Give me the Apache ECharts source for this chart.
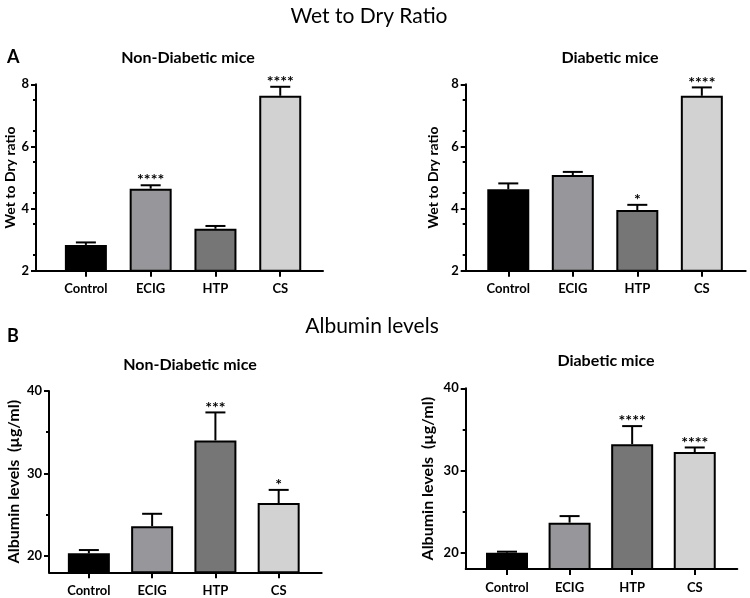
<!DOCTYPE html>
<html>
<head>
<meta charset="utf-8">
<script src="https://cdn.jsdelivr.net/npm/echarts@6/dist/echarts.min.js"></script>
<style>html,body{margin:0;padding:0;background:#fff}#c{width:750px;height:598px}</style>
</head>
<body>
<div id="c"></div>
<script>
const categories = ['Control', 'ECIG', 'HTP', 'CS'];
const barColors = ['#000000', '#97979b', '#767676', '#d2d2d2'];

const wetNonDiab = [2.83, 4.64, 3.35, 7.63];
const wetNonDiabErr = [0.08, 0.11, 0.09, 0.29];
const wetNonDiabStars = ['', '****', '', '****'];

const wetDiab = [4.62, 5.08, 3.95, 7.63];
const wetDiabErr = [0.19, 0.10, 0.17, 0.27];
const wetDiabStars = ['', '', '*', '****'];

const albNonDiab = [20.3, 23.6, 34.0, 26.4];
const albNonDiabErr = [0.4, 1.5, 3.4, 1.6];
const albNonDiabStars = ['', '', '***', '*'];

const albDiab = [20.0, 23.65, 33.2, 32.25];
const albDiabErr = [0.12, 0.8, 2.2, 0.55];
const albDiabStars = ['', '', '****', '****'];

const wetTicks = [2, 4, 6, 8];
const albTicks = [20, 30, 40];
const albMinorTicks = [25, 35];
const catTicks = [0, 1, 2, 3];

const FONT = 'Lato, "Liberation Sans", sans-serif';

const panels = [
  { grid: { left: 36, top: 84.3, width: 287, height: 186.4 }, xMin: -0.77, xMax: 3.66,
    yMin: 2, yMax: 8, ticks: wetTicks, minor: null, name: 'Wet to Dry ratio', nameGap: 16, nameSize: 14,
    vals: wetNonDiab, errs: wetNonDiabErr, stars: wetNonDiabStars },
  { grid: { left: 465.7, top: 84.3, width: 280, height: 186.4 }, xMin: -0.66, xMax: 3.68,
    yMin: 2, yMax: 8, ticks: wetTicks, minor: null, name: 'Wet to Dry ratio', nameGap: 25, nameSize: 14,
    vals: wetDiab, errs: wetDiabErr, stars: wetDiabStars },
  { grid: { left: 49, top: 391, width: 272.7, height: 181.3 }, xMin: -0.63, xMax: 3.68,
    yMin: 18, yMax: 40, ticks: albTicks, minor: albMinorTicks, name: 'Albumin levels  (µg/ml)', nameGap: 27, nameSize: 16,
    vals: albNonDiab, errs: albNonDiabErr, stars: albNonDiabStars },
  { grid: { left: 465.7, top: 388.3, width: 271.6, height: 180.8 }, xMin: -0.66, xMax: 3.68,
    yMin: 18, yMax: 40, ticks: albTicks, minor: albMinorTicks, name: 'Albumin levels  (µg/ml)', nameGap: 30, nameSize: 16,
    vals: albDiab, errs: albDiabErr, stars: albDiabStars }
];

const grids = [], xAxes = [], yAxes = [], series = [];
panels.forEach((p, gi) => {
  grids.push(Object.assign({ containLabel: false }, p.grid));
  xAxes.push({
    type: 'value', gridIndex: gi, min: p.xMin, max: p.xMax,
    splitLine: { show: false },
    axisLine: { show: true, onZero: false, lineStyle: { color: '#000', width: 2 } },
    axisTick: { show: true, customValues: catTicks, length: 6, lineStyle: { color: '#000', width: 2 } },
    axisLabel: { show: true, customValues: catTicks, margin: 12, color: '#000', fontWeight: 'bold', fontSize: 13, fontFamily: FONT,
      formatter: v => categories[Math.round(v)] }
  });
  const yIdx = yAxes.length;
  yAxes.push({
    type: 'value', gridIndex: gi, min: p.yMin, max: p.yMax,
    splitLine: { show: false },
    name: p.name, nameLocation: 'middle', nameRotate: 90, nameGap: p.nameGap,
    nameTextStyle: { color: '#000', fontWeight: 'bold', fontSize: p.nameSize, fontFamily: FONT },
    axisLine: { show: true, onZero: false, lineStyle: { color: '#000', width: 2 } },
    axisTick: { show: true, customValues: p.ticks, length: 5, lineStyle: { color: '#000', width: 2 } },
    axisLabel: { show: true, customValues: p.ticks, margin: 7, color: '#000', fontWeight: 'bold', fontSize: 13, fontFamily: FONT },
    minorTick: p.minor ? { show: false } : { show: true, splitNumber: 2, length: 3, lineStyle: { color: '#000', width: 2 } }
  });
  if (p.minor) {
    yAxes.push({
      type: 'value', gridIndex: gi, min: p.yMin, max: p.yMax, position: 'left',
      splitLine: { show: false },
      axisLine: { show: false, onZero: false },
      axisTick: { show: true, customValues: p.minor, length: 3, lineStyle: { color: '#000', width: 2 } },
      axisLabel: { show: false }
    });
  }
  series.push({
    type: 'bar', xAxisIndex: gi, yAxisIndex: yIdx, barWidth: 42, clip: true,
    data: p.vals.map((v, i) => ({ value: [i, v], itemStyle: { color: barColors[i] } })),
    itemStyle: { borderColor: '#000', borderWidth: 2 },
    emphasis: { disabled: true }, z: 2
  });
  const stars = p.stars;
  series.push({
    type: 'custom', xAxisIndex: gi, yAxisIndex: yIdx, z: 3,
    data: p.vals.map((v, i) => [i, v, v + p.errs[i]]),
    renderItem: (params, api) => {
      const x = api.value(0);
      const p0 = api.coord([x, api.value(1)]);
      const p1 = api.coord([x, api.value(2)]);
      const ls = { stroke: '#000', lineWidth: 2 };
      const children = [
        { type: 'line', shape: { x1: p0[0], y1: p0[1], x2: p1[0], y2: p1[1] }, style: ls },
        { type: 'line', shape: { x1: p1[0] - 10, y1: p1[1], x2: p1[0] + 10, y2: p1[1] }, style: ls }
      ];
      const s = stars[params.dataIndex];
      if (s) {
        children.push({ type: 'text', x: p1[0], y: p1[1] - 13,
          style: { text: s, fill: '#000', font: 'bold 16px ' + FONT, textAlign: 'center', textVerticalAlign: 'top' } });
      }
      return { type: 'group', children };
    }
  });
});

const option = {
  animation: false,
  backgroundColor: '#fff',
  title: [
    { text: 'Wet to Dry Ratio', left: 364, top: 1, textAlign: 'center', textStyle: { fontSize: 21, fontWeight: 'normal', color: '#000', fontFamily: FONT } },
    { text: 'A', left: 2, top: 43, textStyle: { fontSize: 18, fontWeight: 'bold', color: '#000', fontFamily: FONT } },
    { text: 'Non-Diabetic mice', left: 183, top: 45, textAlign: 'center', textStyle: { fontSize: 16, fontWeight: 'bold', color: '#000', fontFamily: FONT } },
    { text: 'Diabetic mice', left: 605, top: 45, textAlign: 'center', textStyle: { fontSize: 16, fontWeight: 'bold', color: '#000', fontFamily: FONT } },
    { text: 'Albumin levels', left: 367, top: 311, textAlign: 'center', textStyle: { fontSize: 21, fontWeight: 'normal', color: '#000', fontFamily: FONT } },
    { text: 'B', left: 2, top: 322, textStyle: { fontSize: 18, fontWeight: 'bold', color: '#000', fontFamily: FONT } },
    { text: 'Non-Diabetic mice', left: 185, top: 352, textAlign: 'center', textStyle: { fontSize: 16, fontWeight: 'bold', color: '#000', fontFamily: FONT } },
    { text: 'Diabetic mice', left: 601, top: 348, textAlign: 'center', textStyle: { fontSize: 16, fontWeight: 'bold', color: '#000', fontFamily: FONT } }
  ],
  grid: grids,
  xAxis: xAxes,
  yAxis: yAxes,
  series: series
};
const chart = echarts.init(document.getElementById('c'), null, { renderer: 'canvas' });
chart.setOption(option);
</script>
</body>
</html>
